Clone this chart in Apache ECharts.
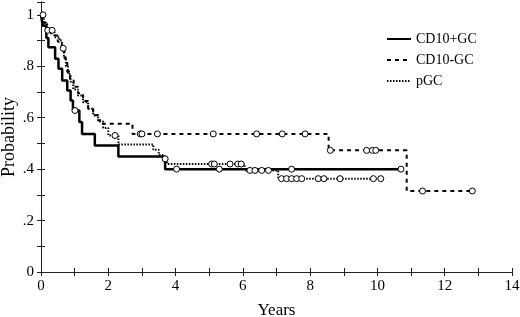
<!DOCTYPE html>
<html>
<head>
<meta charset="utf-8">
<script src="https://cdn.jsdelivr.net/npm/echarts@6/dist/echarts.min.js"></script>
<style>
  html, body { margin: 0; padding: 0; background: #fff; }
  #chart { width: 520px; height: 317px; }
</style>
</head>
<body>
<div id="chart"></div>
<script>
  // step times (years) and survival levels
  const plusT = [0, 0.05, 0.16, 0.22, 0.42, 0.52, 0.63, 0.78, 0.88, 0.95, 1.14, 1.22, 1.6, 2.3, 3.69, 10.7];
  const plusS = [1, 0.958, 0.91, 0.874, 0.829, 0.79, 0.745, 0.706, 0.667, 0.628, 0.583, 0.537, 0.492, 0.449, 0.40, 0.40];
  const plusCensor = [[1.01, 0.628], [4.03, 0.40], [5.3, 0.40], [7.45, 0.40], [10.7, 0.40]];

  const minusT = [0, 0.05, 0.15, 0.3, 0.5, 0.62, 0.7, 0.78, 0.86, 0.97, 1.1, 1.25, 1.4, 1.55, 1.7, 1.84, 2.72, 8.55, 10.87, 12.82];
  const minusS = [1, 0.97, 0.945, 0.92, 0.895, 0.86, 0.83, 0.78, 0.745, 0.72, 0.695, 0.665, 0.635, 0.61, 0.59, 0.577, 0.537, 0.473, 0.315, 0.315];
  const minusCensor = [[2.95, 0.537], [3.0, 0.537], [3.46, 0.537], [5.12, 0.537], [6.41, 0.537], [7.17, 0.537], [7.85, 0.537],
    [8.6, 0.473], [9.68, 0.473], [9.85, 0.473], [9.95, 0.473], [11.34, 0.315], [12.82, 0.315]];

  const pgcT = [0, 0.08, 0.18, 0.4, 0.55, 0.62, 0.68, 0.74, 0.8, 0.88, 0.96, 1.1, 1.25, 1.4, 1.55, 1.7, 1.85, 2.0, 2.3, 3.34, 3.5, 3.62, 3.75, 6.05, 7.05, 10.1];
  const pgcS = [1, 0.965, 0.94, 0.913, 0.9, 0.87, 0.835, 0.8, 0.77, 0.74, 0.71, 0.686, 0.66, 0.635, 0.61, 0.585, 0.56, 0.531, 0.496, 0.475, 0.455, 0.44, 0.42, 0.395, 0.363, 0.363];
  const pgcCensor = [[0.06, 1.0], [0.2, 0.94], [0.33, 0.94], [0.66, 0.87], [2.2, 0.531], [3.69, 0.44],
    [5.07, 0.42], [5.15, 0.42], [5.62, 0.42], [5.85, 0.42], [5.95, 0.42],
    [6.21, 0.395], [6.36, 0.395], [6.56, 0.395], [6.76, 0.395],
    [7.15, 0.363], [7.3, 0.363], [7.45, 0.363], [7.6, 0.363], [7.75, 0.363],
    [8.24, 0.363], [8.41, 0.363], [8.89, 0.363], [9.88, 0.363], [10.1, 0.363]];

  const xTicks = [0, 2, 4, 6, 8, 10, 12, 14];

  const font = "Liberation Serif";
  const zip = (t, s) => t.map((v, i) => [v, s[i]]);

  const tickStyle = { inside: true, length: 4, lineStyle: { color: "#222" } };
  const minorStyle = { show: true, splitNumber: 2, length: 4, lineStyle: { color: "#222" } };

  const chart = echarts.init(document.getElementById("chart"));

  const stepLine = (name, data, width, type) => ({
    name,
    type: "line",
    step: "end",
    symbol: "none",
    data,
    lineStyle: { color: "#000", width, type },
    itemStyle: { color: "#000" },
    z: 2,
  });

  const censor = (data) => ({
    type: "scatter",
    data,
    symbol: "circle",
    symbolSize: 6,
    itemStyle: { color: "#fff", borderColor: "#000", borderWidth: 1, opacity: 1 },
    z: 3,
  });

  chart.setOption({
    animation: false,
    grid: { left: 41, right: 8, top: 2, bottom: 45, outerBoundsMode: "none", containLabel: false },
    legend: {
      orient: "vertical",
      left: 381,
      top: 27,
      itemWidth: 24,
      itemHeight: 14,
      itemGap: 7,
      itemStyle: { opacity: 0 },
      textStyle: { fontFamily: font, fontSize: 14, color: "#000" },
      data: ["CD10+GC", "CD10-GC", "pGC"],
    },
    xAxis: [
      {
        type: "value",
        min: 0,
        max: 14,
        interval: 2,
        name: "Years",
        nameLocation: "middle",
        nameGap: 30,
        nameMoveOverlap: false,
        nameTextStyle: { fontFamily: font, fontSize: 17, color: "#000" },
        axisLine: { lineStyle: { color: "#222" } },
        axisTick: tickStyle,
        minorTick: minorStyle,
        splitLine: { show: false },
        axisLabel: {
          fontFamily: font,
          fontSize: 15,
          color: "#000",
          margin: 7,
          formatter: (v) => (xTicks.includes(v) ? String(v) : ""),
        },
      },
      {
        type: "value",
        position: "top",
        min: 0,
        max: 14,
        interval: 2,
        axisLine: { show: true, lineStyle: { color: "#222" } },
        axisTick: tickStyle,
        minorTick: minorStyle,
        splitLine: { show: false },
        axisLabel: { show: false },
      },
    ],
    yAxis: [
      {
        type: "value",
        min: 0,
        max: 1.05,
        interval: 0.2,
        name: "Probability",
        nameLocation: "middle",
        nameGap: 23,
        nameMoveOverlap: false,
        nameTextStyle: { fontFamily: font, fontSize: 18, color: "#000" },
        axisLine: { show: true, lineStyle: { color: "#222" } },
        axisTick: tickStyle,
        minorTick: minorStyle,
        splitLine: { show: false },
        axisLabel: {
          fontFamily: font,
          fontSize: 15,
          color: "#000",
          margin: 7,
          formatter: (v) => {
            if (v > 1.001) return "";
            if (v === 0) return "0";
            if (Math.abs(v - 1) < 1e-6) return "1";
            return v.toFixed(1).replace("0.", ".");
          },
        },
      },
      {
        type: "value",
        position: "right",
        min: 0,
        max: 1.05,
        interval: 0.2,
        axisLine: { show: true, lineStyle: { color: "#222" } },
        axisTick: tickStyle,
        minorTick: minorStyle,
        splitLine: { show: false },
        axisLabel: { show: false },
      },
    ],
    series: [
      stepLine("CD10+GC", zip(plusT, plusS), 2.5, "solid"),
      stepLine("CD10-GC", zip(minusT, minusS), 2, [4, 4]),
      stepLine("pGC", zip(pgcT, pgcS), 2, [1.5, 1.5]),
      censor(plusCensor),
      censor(minusCensor),
      censor(pgcCensor),
    ],
  });
</script>
</body>
</html>
